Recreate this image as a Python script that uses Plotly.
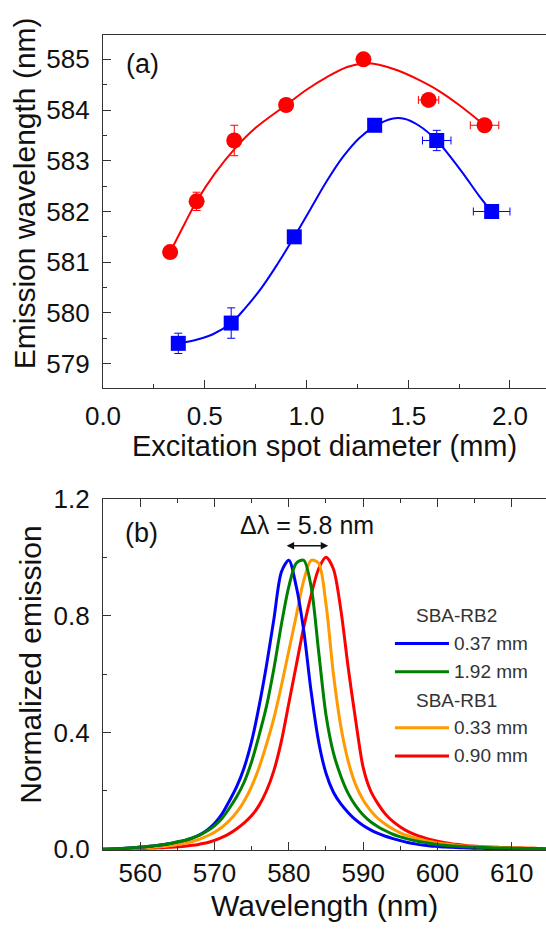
import plotly.graph_objects as go

# ---------------- panel (a): emission peak vs excitation spot diameter ----------------
rb1_diam = [0.33, 0.46, 0.645, 0.90, 1.28, 1.60, 1.875]
rb1_peak = [581.2, 582.2, 583.4, 584.1, 585.0, 584.2, 583.7]
rb1_yerr = [0.05, 0.18, 0.3, 0.05, 0.05, 0.1, 0.05]
rb1_xerr = [0.0, 0.0, 0.0, 0.0, 0.0, 0.05, 0.07]

rb2_diam = [0.37, 0.63, 0.94, 1.335, 1.64, 1.91]
rb2_peak = [579.4, 579.8, 581.5, 583.7, 583.4, 582.0]
rb2_yerr = [0.2, 0.3, 0.05, 0.05, 0.2, 0.05]
rb2_xerr = [0.0, 0.0, 0.0, 0.0, 0.07, 0.09]

# guide-to-the-eye fit curves
rb1_fit_x = [0.33, 0.40, 0.46, 0.55, 0.65, 0.75, 0.90, 1.00, 1.10, 1.20, 1.28, 1.35,
             1.45, 1.55, 1.65, 1.75, 1.875]
rb1_fit_y = [581.2, 581.75, 582.2, 582.75, 583.25, 583.65, 584.1, 584.4, 584.65, 584.85,
             584.92, 584.9, 584.78, 584.6, 584.38, 584.1, 583.7]
rb2_fit_x = [0.37, 0.45, 0.54, 0.63, 0.70, 0.78, 0.86, 0.94, 1.02, 1.10, 1.18, 1.26,
             1.335, 1.42, 1.48, 1.55, 1.64, 1.76, 1.85, 1.91]
rb2_fit_y = [579.4, 579.46, 579.58, 579.8, 580.1, 580.5, 580.98, 581.5, 582.05, 582.6,
             583.08, 583.45, 583.68, 583.83, 583.83, 583.7, 583.4, 582.8, 582.3, 582.0]

# ---------------- panel (b): normalized emission spectra ----------------
wavelength = list(range(555, 616))
spec_rb2_037 = [0.0, 0.0, 0.001, 0.003, 0.005, 0.007, 0.009, 0.012, 0.015, 0.019,   # 555-564
                0.024, 0.03, 0.038, 0.049, 0.065, 0.088, 0.12, 0.165, 0.215, 0.28,   # 565-574
                0.37, 0.49, 0.63, 0.79, 0.95, 0.99, 0.9, 0.75, 0.54, 0.37,           # 575-584
                0.26, 0.195, 0.155, 0.125, 0.1, 0.081, 0.066, 0.054, 0.044, 0.036,   # 585-594
                0.029, 0.023, 0.018, 0.014, 0.011, 0.009, 0.007, 0.006, 0.005, 0.004,  # 595-604
                0.003, 0.003, 0.002, 0.002, 0.001, 0.001, 0.001, 0.0, 0.0, 0.0,      # 605-614
                0.0]                                                                  # 615
spec_rb2_192 = [0.0, 0.001, 0.002, 0.003, 0.005, 0.007, 0.009, 0.012, 0.015, 0.019,
                0.025, 0.03, 0.038, 0.048, 0.062, 0.08, 0.105, 0.14, 0.18, 0.23,
                0.3, 0.39, 0.49, 0.62, 0.77, 0.9, 0.98, 0.99, 0.9, 0.68,
                0.46, 0.33, 0.25, 0.19, 0.148, 0.117, 0.094, 0.077, 0.063, 0.051,
                0.042, 0.035, 0.029, 0.024, 0.02, 0.016, 0.013, 0.011, 0.009, 0.008,
                0.007, 0.006, 0.005, 0.004, 0.004, 0.003, 0.003, 0.002, 0.002, 0.002,
                0.001]
spec_rb1_033 = [0.0, 0.0, 0.001, 0.002, 0.003, 0.004, 0.005, 0.007, 0.009, 0.012,
                0.015, 0.02, 0.026, 0.034, 0.045, 0.058, 0.075, 0.098, 0.127, 0.165,
                0.215, 0.28, 0.36, 0.45, 0.56, 0.68, 0.8, 0.92, 0.99, 0.98,
                0.84, 0.6, 0.42, 0.3, 0.22, 0.168, 0.132, 0.105, 0.085, 0.069,
                0.056, 0.046, 0.038, 0.031, 0.026, 0.021, 0.018, 0.015, 0.012, 0.01,
                0.009, 0.008, 0.007, 0.006, 0.005, 0.004, 0.004, 0.003, 0.003, 0.002,
                0.002]
spec_rb1_090 = [0.0, 0.0, 0.0, 0.001, 0.001, 0.002, 0.003, 0.004, 0.005, 0.006,
                0.008, 0.01, 0.013, 0.017, 0.022, 0.03, 0.04, 0.053, 0.07, 0.09,
                0.115, 0.15, 0.2, 0.27, 0.37, 0.5, 0.63, 0.76, 0.87, 0.96,
                1.0, 0.96, 0.82, 0.62, 0.44, 0.28, 0.2, 0.155, 0.12, 0.095,
                0.076, 0.061, 0.05, 0.041, 0.033, 0.027, 0.022, 0.018, 0.015, 0.012,
                0.01, 0.008, 0.007, 0.006, 0.005, 0.004, 0.004, 0.003, 0.003, 0.002,
                0.002]

# peak positions of the extreme spectra (used for the shift arrow and its label)
peak_blue = 579.5
peak_red = 585.3

legend_groups = ["SBA-RB2", "SBA-RB1"]
legend_labels = ["0.37 mm", "1.92 mm", "0.33 mm", "0.90 mm"]

RED = "#ff0000"
BLUE = "#0000ff"
C_BLUE = "#0000ff"
C_GREEN = "#008000"
C_ORANGE = "#ff9a00"
C_RED = "#ff0000"

FONT = "Liberation Sans, Arial, sans-serif"
AXIS_COLOR = "#333333"

fig = go.Figure()

# fit curves (panel a)
fig.add_trace(go.Scatter(x=rb1_fit_x, y=rb1_fit_y, mode="lines",
                         line=dict(color=RED, width=2, shape="spline", smoothing=1.0),
                         xaxis="x", yaxis="y", showlegend=False, hoverinfo="skip"))
fig.add_trace(go.Scatter(x=rb2_fit_x, y=rb2_fit_y, mode="lines",
                         line=dict(color=BLUE, width=2, shape="spline", smoothing=1.0),
                         xaxis="x", yaxis="y", showlegend=False, hoverinfo="skip"))

# measured points with error bars (panel a)
fig.add_trace(go.Scatter(
    x=rb1_diam, y=rb1_peak, mode="markers",
    marker=dict(symbol="circle", size=16, color=RED),
    error_y=dict(type="data", array=rb1_yerr, color=RED, thickness=1, width=4),
    error_x=dict(type="data", array=rb1_xerr, color=RED, thickness=1, width=4),
    xaxis="x", yaxis="y", showlegend=False))
fig.add_trace(go.Scatter(
    x=rb2_diam, y=rb2_peak, mode="markers",
    marker=dict(symbol="square", size=15, color=BLUE),
    error_y=dict(type="data", array=rb2_yerr, color=BLUE, thickness=1, width=4),
    error_x=dict(type="data", array=rb2_xerr, color=BLUE, thickness=1, width=4),
    xaxis="x", yaxis="y", showlegend=False))

# spectra (panel b)
spectra = [
    (spec_rb1_090, C_RED),
    (spec_rb1_033, C_ORANGE),
    (spec_rb2_037, C_BLUE),
    (spec_rb2_192, C_GREEN),
]
for vals, col in spectra:
    fig.add_trace(go.Scatter(x=wavelength, y=vals, mode="lines",
                             line=dict(color=col, width=3, shape="spline", smoothing=0.8),
                             xaxis="x2", yaxis="y2", showlegend=False))

axis_common = dict(
    showline=True, linecolor=AXIS_COLOR, linewidth=1.3,
    ticks="inside", ticklen=8, tickwidth=1.3, tickcolor=AXIS_COLOR,
    showgrid=False, zeroline=False,
    tickfont=dict(family=FONT, size=26, color="#111111"),
)

fig.update_layout(
    width=546, height=930,
    margin=dict(l=103, r=0, t=35, b=80),
    paper_bgcolor="white", plot_bgcolor="white",
    font=dict(family=FONT, color="#111111"),
    xaxis=dict(axis_common, domain=[0, 1], range=[0, 2.177], anchor="y",
               dtick=0.5, tickformat=".1f", mirror=True, ticklabelstandoff=5,
               minor=dict(ticks="inside", ticklen=4, dtick=0.25, tickcolor=AXIS_COLOR)),
    yaxis=dict(axis_common, domain=[0.5669, 1.0], range=[578.52, 585.48], anchor="x",
               dtick=1, ticklabelstandoff=7,
               minor=dict(ticks="inside", ticklen=4, dtick=0.5, tickcolor=AXIS_COLOR)),
    xaxis2=dict(axis_common, domain=[0, 1], range=[555.0, 614.6], anchor="y2",
                dtick=10, mirror="ticks", ticklabelstandoff=0,
                minor=dict(ticks="inside", ticklen=4, dtick=5, tickcolor=AXIS_COLOR)),
    yaxis2=dict(axis_common, domain=[0, 0.4307], range=[-0.003, 1.2], anchor="x2",
                dtick=0.4, tickformat=".1f", ticklabelstandoff=7,
                minor=dict(ticks="inside", ticklen=4, dtick=0.2, tickcolor=AXIS_COLOR)),
)

title_font = dict(family=FONT, size=29, color="#111111")
annotations = [
    dict(text="Emission wavelength (nm)", textangle=-90, xref="paper", yref="paper",
         x=-0.178, y=0.806, xanchor="center", yanchor="middle", showarrow=False,
         font=dict(family=FONT, size=30, color="#111111")),
    dict(text="Excitation spot diameter (mm)", xref="paper", yref="paper",
         x=0.5, y=0.496, xanchor="center", yanchor="middle", showarrow=False,
         font=title_font),
    dict(text="Normalized emission", textangle=-90, xref="paper", yref="paper",
         x=-0.163, y=0.227, xanchor="center", yanchor="middle", showarrow=False,
         font=dict(family=FONT, size=30, color="#111111")),
    dict(text="Wavelength (nm)", xref="paper", yref="paper",
         x=0.5, y=-0.0687, xanchor="center", yanchor="middle", showarrow=False,
         font=dict(family=FONT, size=30, color="#111111")),
    dict(text="(a)", xref="x domain", yref="y domain", x=0.09, y=0.918,
         xanchor="center", yanchor="middle", showarrow=False,
         font=dict(family=FONT, size=27, color="#111111")),
    dict(text="(b)", xref="x2 domain", yref="y2 domain", x=0.088, y=0.903,
         xanchor="center", yanchor="middle", showarrow=False,
         font=dict(family=FONT, size=27, color="#111111")),
    # peak-shift arrow and label
    dict(x=peak_red, y=1.04, ax=peak_blue, ay=1.04, xref="x2", yref="y2",
         axref="x2", ayref="y2", text="", showarrow=True, arrowside="end+start",
         arrowhead=2, arrowsize=1, arrowwidth=1.5, arrowcolor="#111111"),
    dict(text=f"Δλ = {peak_red - peak_blue:.1f} nm", xref="x2", yref="y2",
         x=(peak_blue + peak_red) / 2, y=1.111, xanchor="center", yanchor="middle",
         showarrow=False, font=dict(family=FONT, size=25, color="#111111")),
]

# hand-built legend for panel (b)
legend_font = dict(family=FONT, size=19, color="#333333")
group_rows = [0.667, 0.427]
item_rows = [0.588, 0.508, 0.348, 0.268]
item_colors = [C_BLUE, C_GREEN, C_ORANGE, C_RED]
shapes = []
for name, yy in zip(legend_groups, group_rows):
    annotations.append(dict(text=name, xref="x2 domain", yref="y2 domain", x=0.797, y=yy,
                            xanchor="center", yanchor="middle", showarrow=False,
                            font=legend_font))
for lab, yy, col in zip(legend_labels, item_rows, item_colors):
    shapes.append(dict(type="line", xref="x2 domain", yref="y2 domain",
                       x0=0.659, x1=0.781, y0=yy, y1=yy,
                       line=dict(color=col, width=3)))
    annotations.append(dict(text=lab, xref="x2 domain", yref="y2 domain", x=0.788, y=yy,
                            xanchor="left", yanchor="middle", showarrow=False,
                            font=legend_font))

fig.update_layout(annotations=annotations, shapes=shapes)

fig.write_html("out.html")
